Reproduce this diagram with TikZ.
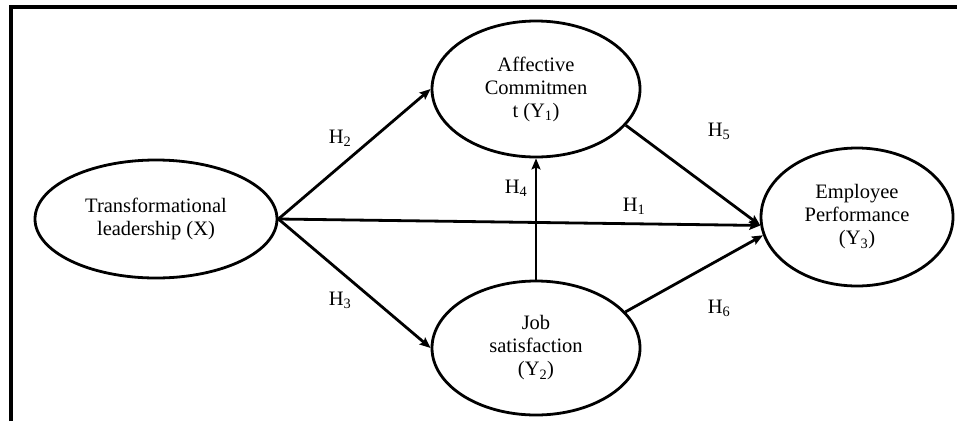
\documentclass[tikz,border=0pt]{standalone}
\usepackage{fontspec}
\setmainfont{Liberation Serif}
\usetikzlibrary{shapes.geometric,arrows.meta}
\begin{document}
\begin{tikzpicture}[x=1pt,y=-1pt,
  construct/.style={draw,ellipse,line width=2.8pt,inner sep=0pt,align=center,
    font=\fontsize{20.5}{23}\selectfont},
  hlabel/.style={font=\fontsize{20.5}{23}\selectfont,inner sep=0pt},
  path/.style={line width=2.8pt,-{Stealth[length=11pt,width=9pt,inset=2pt]}},
  frame/.style={line width=4pt}]
\useasboundingbox (0,0) rectangle (957,421);
\coordinate (fa) at (10.5,421);
\coordinate (fb) at (10.5,7);
\coordinate (fc) at (957,7);
\draw[frame] (fa) -- (fb) -- (fc);
\node[construct,minimum width=242pt,minimum height=118pt] (X) at (156,219)
  {Transformational\\leadership (X)};
\node[construct,minimum width=208pt,minimum height=136pt] (Y1) at (536,89)
  {Affective\\Commitmen\\t (Y\textsubscript{1})};
\node[construct,minimum width=208pt,minimum height=134pt] (Y2) at (536,348)
  {Job\\satisfaction\\(Y\textsubscript{2})};
\node[construct,minimum width=192pt,minimum height=138pt] (Y3) at (857,217)
  {Employee\\Performance\\(Y\textsubscript{3})};
\draw[path] (X.east) -- (Y1.west);
\draw[path] (X.east) -- (Y2.west);
\draw[path] (X.east) -- (Y3.185);
\draw[path] (Y2.north) -- (Y1.south);
\draw[path] (Y1.-22) -- (Y3.185);
\draw[path] (Y2.22) -- (Y3.191);
\node[hlabel] (h2) at (340,138) {H\textsubscript{2}};
\node[hlabel] (h3) at (340,300) {H\textsubscript{3}};
\node[hlabel] (h4) at (516,188) {H\textsubscript{4}};
\node[hlabel] (h1) at (634,206) {H\textsubscript{1}};
\node[hlabel] (h5) at (719,131) {H\textsubscript{5}};
\node[hlabel] (h6) at (719,308) {H\textsubscript{6}};
\end{tikzpicture}
\end{document}
